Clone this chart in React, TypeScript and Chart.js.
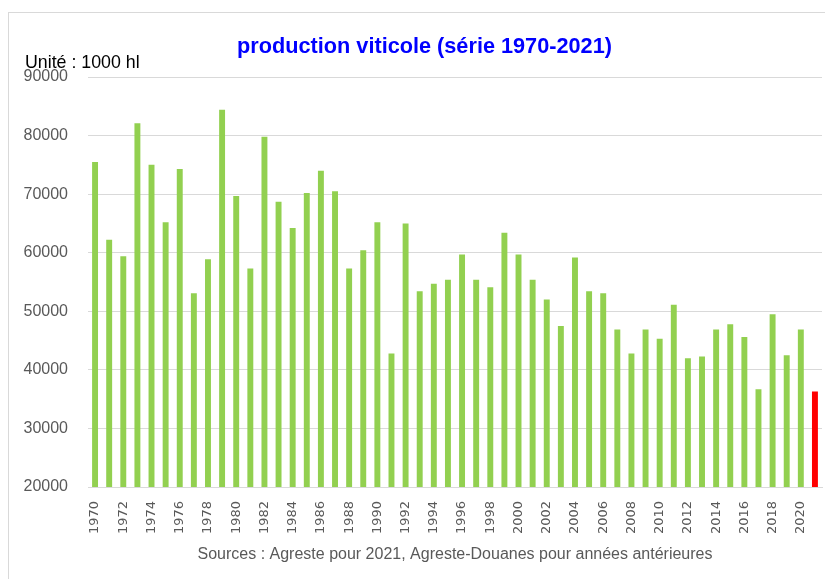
import React, { useEffect, useRef } from "react";
import { Chart, registerables } from "chart.js";

Chart.register(...registerables);

const years: string[] = [];
for (let y = 1970; y <= 2021; y++) years.push(String(y));

const production: number[] = [
  75500, 62200, 59400, 82100, 75000, 65200, 74300, 53100, 58900, 84400,
  69700, 57300, 79800, 68700, 64200, 70200, 74000, 70500, 57300, 60400,
  65200, 42800, 65000, 53400, 54700, 55400, 59700, 55400, 54100, 63400,
  59700, 55400, 52000, 47500, 59200, 53400, 53100, 46900, 42800, 46900,
  45300, 51100, 42000, 42300, 46900, 47800, 45600, 36700, 49500, 42500,
  46900, 36300,
];

const titleText = "production viticole (série 1970-2021)";
const unitText = "Unité : 1000 hl";
const sourceText = "Sources : Agreste pour 2021, Agreste-Douanes pour années antérieures";

const GREEN = "#92D050";
const RED = "#FF0000";

export default function App() {
  const ref = useRef<HTMLCanvasElement>(null);
  useEffect(() => {
    if (!ref.current) return;
    const textPlugin = {
      id: "headerText",
      afterDraw(chart: any) {
        const ctx = chart.ctx;
        ctx.save();
        ctx.textBaseline = "middle";
        ctx.font = "bold 21.7px 'Liberation Sans', Arial, sans-serif";
        ctx.fillStyle = "#0000FF";
        ctx.textAlign = "center";
        ctx.fillText(titleText, 415.5, 34.5);
        ctx.font = "17.8px 'Liberation Sans', Arial, sans-serif";
        ctx.fillStyle = "#000000";
        ctx.textAlign = "left";
        ctx.fillText(unitText, 16, 50);
        ctx.restore();
      },
    };
    const chart = new Chart(ref.current, {
      type: "bar",
      data: {
        labels: years,
        datasets: [
          {
            data: production,
            backgroundColor: years.map((y) => (y === "2021" ? RED : GREEN)),
            borderWidth: 0,
            barPercentage: 0.42,
            categoryPercentage: 1,
          },
        ],
      },
      options: {
        animation: false,
        responsive: false,
        maintainAspectRatio: false,
        layout: { padding: { left: 0, right: 3, top: 64, bottom: 29 } },
        plugins: {
          legend: { display: false },
          tooltip: { enabled: false },
          title: { display: false },
        },
        scales: {
          x: {
            grid: { display: false, drawTicks: false },
            border: { display: true, color: "#d9d9d9" },
            ticks: {
              color: "#595959",
              font: { family: "'DejaVu Sans', sans-serif", size: 13 },
              autoSkip: false,
              maxRotation: 90,
              minRotation: 90,
              padding: 14,
              callback: (_v: any, i: number) => (i % 2 === 0 ? years[i] : ""),
            },
            title: {
              display: true,
              text: sourceText,
              color: "#595959",
              font: { family: "'Liberation Sans', Arial, sans-serif", size: 16 },
              padding: { top: 6, bottom: 0 },
            },
            afterFit: (scale: any) => {
              scale.height = 77;
              scale.paddingLeft = 0;
              scale.paddingRight = 0;
            },
          },
          y: {
            min: 20000,
            max: 90000,
            grid: { color: "#d9d9d9", drawTicks: false },
            border: { display: false },
            ticks: {
              stepSize: 10000,
              color: "#595959",
              font: { family: "'Liberation Sans', Arial, sans-serif", size: 16 },
              padding: 20,
              callback: (v: any) => String(v),
            },
            afterFit: (scale: any) => {
              scale.width = 79;
              scale.paddingTop = 0;
              scale.paddingBottom = 0;
            },
          },
        },
      },
      plugins: [textPlugin],
    } as any);
    return () => chart.destroy();
  }, []);
  return (
    <div
      style={{
        marginTop: 4,
        width: 818,
        height: 600,
        border: "1px solid #d9d9d9",
        boxSizing: "border-box",
        position: "relative",
      }}
    >
      <canvas ref={ref} width={816} height={580} style={{ display: "block" }} />
    </div>
  );
}
